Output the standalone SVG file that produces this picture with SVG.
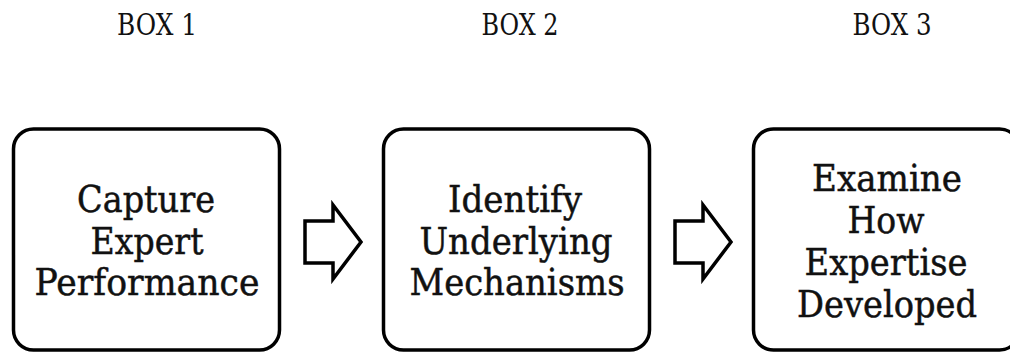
<svg xmlns="http://www.w3.org/2000/svg" width="1010" height="353" viewBox="0 0 1010 353">
  <style>
    .box { fill: #ffffff; stroke: #000000; stroke-width: 3.5; }
    .arrow { fill: #ffffff; stroke: #000000; stroke-width: 3.5; stroke-linejoin: miter; }
    .lbl { font-family: "DejaVu Serif", "Liberation Serif", serif; font-size: 38px; fill: #111111; stroke: #111111; stroke-width: 0.5; text-anchor: middle; }
    .head { font-family: "DejaVu Serif", "Liberation Serif", serif; font-size: 29px; fill: #111111; text-anchor: middle; }
  </style>
  <rect x="0" y="0" width="1010" height="353" fill="#ffffff"/>

  <g id="header-labels">
    <text class="head" x="157" y="35" textLength="80" lengthAdjust="spacingAndGlyphs">BOX 1</text>
    <text class="head" x="520" y="35" textLength="77" lengthAdjust="spacingAndGlyphs">BOX 2</text>
    <text class="head" x="892" y="35" textLength="79" lengthAdjust="spacingAndGlyphs">BOX 3</text>
  </g>

  <g id="box1">
    <rect class="box" x="13.5" y="129" width="266" height="221" rx="20" ry="20"/>
    <text class="lbl" x="146" y="212" textLength="138" lengthAdjust="spacingAndGlyphs">Capture</text>
    <text class="lbl" x="147" y="254" textLength="113" lengthAdjust="spacingAndGlyphs">Expert</text>
    <text class="lbl" x="147" y="295" textLength="225" lengthAdjust="spacingAndGlyphs">Performance</text>
  </g>

  <g id="box2">
    <rect class="box" x="383.5" y="129" width="266" height="221" rx="20" ry="20"/>
    <text class="lbl" x="515" y="212" textLength="134" lengthAdjust="spacingAndGlyphs">Identify</text>
    <text class="lbl" x="516" y="254" textLength="193" lengthAdjust="spacingAndGlyphs">Underlying</text>
    <text class="lbl" x="517" y="295" textLength="215" lengthAdjust="spacingAndGlyphs">Mechanisms</text>
  </g>

  <g id="box3">
    <rect class="box" x="753.5" y="129" width="266" height="221" rx="20" ry="20"/>
    <text class="lbl" x="887" y="191" textLength="150" lengthAdjust="spacingAndGlyphs">Examine</text>
    <text class="lbl" x="886" y="233" textLength="77" lengthAdjust="spacingAndGlyphs">How</text>
    <text class="lbl" x="886" y="275" textLength="163" lengthAdjust="spacingAndGlyphs">Expertise</text>
    <text class="lbl" x="887" y="317" textLength="180" lengthAdjust="spacingAndGlyphs">Developed</text>
  </g>

  <g id="connectors">
    <polygon class="arrow" points="305,221 333,221 333,205 361,242 333,279 333,263 305,263"/>
    <polygon class="arrow" points="675,221 703,221 703,205 731,242 703,279 703,263 675,263"/>
  </g>
</svg>
